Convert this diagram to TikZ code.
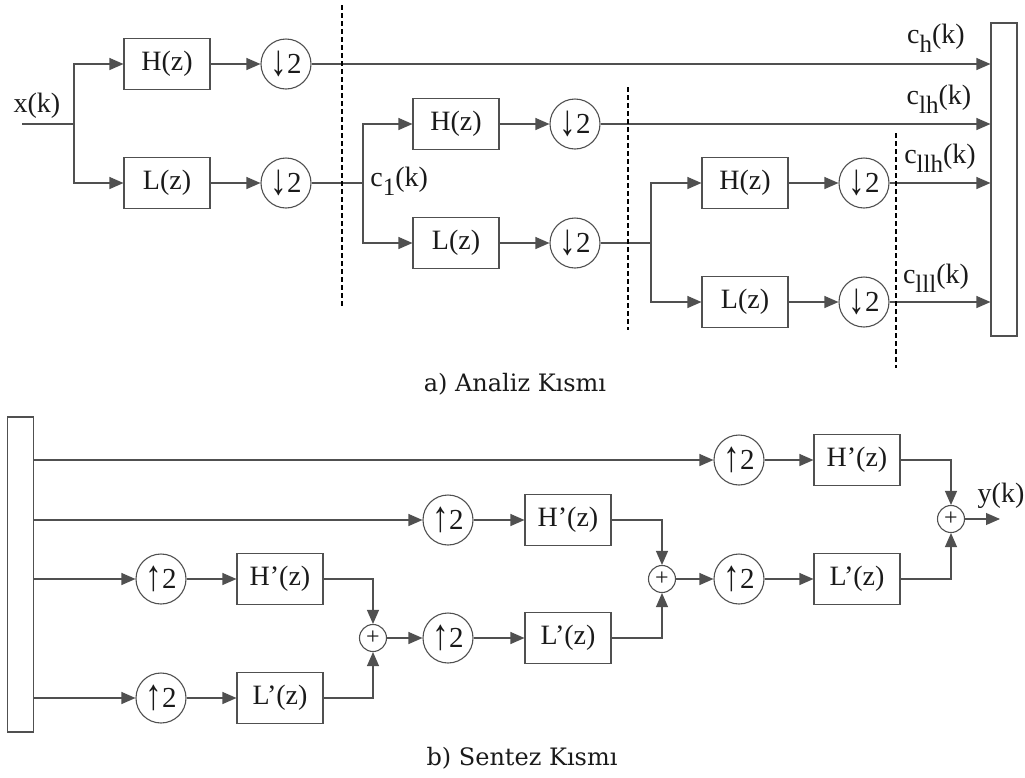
\documentclass[tikz,border=0pt]{standalone}
\usepackage{fontspec}
\setmainfont{Liberation Serif}
\newfontfamily\capfont{DejaVu Serif}
\usetikzlibrary{arrows.meta}
\definecolor{linegray}{HTML}{505050}
\definecolor{ink}{HTML}{1A1A1A}
\newcommand{\lowidx}[1]{\raisebox{-4.5pt}{\fontsize{12.5}{12}\selectfont #1}}
\newcommand{\dnarr}{\raisebox{-1.2pt}{\scalebox{1.15}[1.5]{↓}}}
\newcommand{\uparr}{\raisebox{-1.2pt}{\scalebox{1.15}[1.5]{↑}}}
\tikzset{
  filt/.style = {draw=linegray, line width=0.55pt, minimum width=43pt, minimum height=25.5pt,
                 inner sep=0pt, text=ink, font=\fontsize{14}{16}\selectfont},
  rate/.style = {circle, draw=linegray, line width=0.55pt, minimum size=25pt,
                 inner sep=0pt, text=ink, font=\fontsize{14.5}{16}\selectfont},
  sumn/.style = {circle, draw=linegray, line width=0.55pt, minimum size=13.5pt,
                 inner sep=0pt, text=ink, font=\fontsize{12}{12}\selectfont},
  bank/.style = {draw=linegray, line width=0.55pt, minimum width=13pt, inner sep=0pt},
  sig/.style  = {text=ink, inner sep=1pt, font=\fontsize{14}{16}\selectfont},
  capt/.style = {text=ink, inner sep=0pt, font=\capfont\fontsize{12}{14}\selectfont},
  ln/.style   = {draw=linegray, line width=0.55pt},
  arr/.style  = {ln, -{Triangle[length=7pt,width=6pt]}},
  cut/.style  = {draw=black, line width=0.55pt, dash pattern=on 2.5pt off 1.5pt},
}
\begin{document}
\begin{tikzpicture}[x=0.5pt,y=-0.5pt]
  \useasboundingbox (0,0) rectangle (1025,778);
  % a) analysis
  \node[sig] (xk) at (37,106) {x(k)};
  \coordinate (xin) at (22,124);
  \coordinate (br1) at (74,124);
  \node[filt] (h1) at (167,64) {H(z)};
  \node[filt] (l1) at (167,183) {L(z)};
  \node[rate] (d1) at (286,64) {\dnarr2};
  \node[rate] (d2) at (286,183) {\dnarr2};
  \coordinate (br2) at (363,183);
  \node[filt] (h2) at (456,124) {H(z)};
  \node[filt] (l2) at (456,243) {L(z)};
  \node[rate] (d3) at (575,124) {\dnarr2};
  \node[rate] (d4) at (575,243) {\dnarr2};
  \coordinate (br3) at (651,243);
  \node[filt] (h3) at (745,183) {H(z)};
  \node[filt] (l3) at (745,302) {L(z)};
  \node[rate] (d5) at (864,183) {\dnarr2};
  \node[rate] (d6) at (864,302) {\dnarr2};
  \node[bank,minimum height=156.5pt] (cb) at (1004,179.5) {};
  \draw[ln] (xin) -- (br1);
  \draw[arr] (br1) |- (h1);
  \draw[arr] (br1) |- (l1);
  \draw[arr] (h1) -- (d1);
  \draw[arr] (l1) -- (d2);
  \draw[arr] (d1) -- (d1 -| cb.west);
  \draw[ln] (d2) -- (br2);
  \draw[arr] (br2) |- (h2);
  \draw[arr] (br2) |- (l2);
  \draw[arr] (h2) -- (d3);
  \draw[arr] (l2) -- (d4);
  \draw[arr] (d3) -- (d3 -| cb.west);
  \draw[ln] (d4) -- (br3);
  \draw[arr] (br3) |- (h3);
  \draw[arr] (br3) |- (l3);
  \draw[arr] (h3) -- (d5);
  \draw[arr] (l3) -- (d6);
  \draw[arr] (d5) -- (d5 -| cb.west);
  \draw[arr] (d6) -- (d6 -| cb.west);
  \node[sig,anchor=west] (c1) at (368,181) {c\lowidx{1}(k)};
  \node[sig] (ch) at (936,38) {c\lowidx{h}(k)};
  \node[sig] (clh) at (939,99) {c\lowidx{lh}(k)};
  \node[sig] (cllh) at (940,158) {c\lowidx{llh}(k)};
  \node[sig] (clll) at (936,278) {c\lowidx{lll}(k)};
  \draw[cut] (342,5) -- (342,308);
  \draw[cut] (628,87) -- (628,330);
  \draw[cut] (896,133) -- (896,368);
  \node[capt] (capa) at (515,384) {a) Analiz Kısmı};
  % b) synthesis
  \node[bank,minimum height=157.5pt] (sb) at (20.5,574.5) {};
  \node[rate] (u1) at (739,460) {\uparr2};
  \node[rate] (u2) at (448,520) {\uparr2};
  \node[rate] (u3) at (161,579) {\uparr2};
  \node[rate] (u4) at (161,698) {\uparr2};
  \node[filt] (g1) at (857,460) {H’(z)};
  \node[filt] (g2) at (568,520) {H’(z)};
  \node[filt] (g3) at (280,579) {H’(z)};
  \node[filt] (g4) at (280,698) {L’(z)};
  \node[sumn] (s1) at (373,638) {+};
  \node[rate] (u5) at (448,638) {\uparr2};
  \node[filt] (g5) at (568,638) {L’(z)};
  \node[sumn] (s2) at (662,579) {+};
  \node[rate] (u6) at (739,579) {\uparr2};
  \node[filt] (g6) at (857,579) {L’(z)};
  \node[sumn] (s3) at (951,519) {+};
  \coordinate (yout) at (1000,519);
  \node[sig] (yk) at (1001,496) {y(k)};
  \draw[arr] (sb.east |- u1) -- (u1);
  \draw[arr] (sb.east |- u2) -- (u2);
  \draw[arr] (sb.east |- u3) -- (u3);
  \draw[arr] (sb.east |- u4) -- (u4);
  \draw[arr] (u1) -- (g1);
  \draw[arr] (u2) -- (g2);
  \draw[arr] (u3) -- (g3);
  \draw[arr] (u4) -- (g4);
  \draw[arr] (g3) -| (s1);
  \draw[arr] (g4) -| (s1);
  \draw[arr] (s1) -- (u5);
  \draw[arr] (u5) -- (g5);
  \draw[arr] (g2) -| (s2);
  \draw[arr] (g5) -| (s2);
  \draw[arr] (s2) -- (u6);
  \draw[arr] (u6) -- (g6);
  \draw[arr] (g1) -| (s3);
  \draw[arr] (g6) -| (s3);
  \draw[arr] (s3) -- (yout);
  \node[capt] (capb) at (522,758) {b) Sentez Kısmı};
\end{tikzpicture}
\end{document}
